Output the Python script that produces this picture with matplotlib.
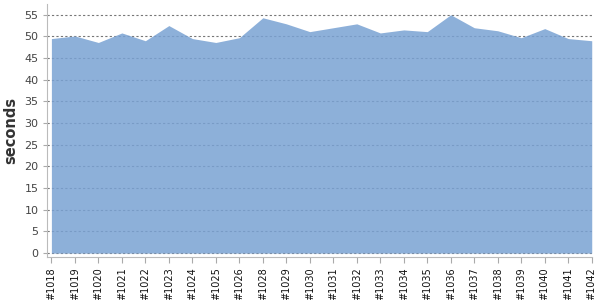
import numpy as np
import matplotlib.pyplot as plt

builds = ['#1018', '#1019', '#1020', '#1021', '#1022', '#1023', '#1024', '#1025', '#1026',
          '#1028', '#1029', '#1030', '#1031', '#1032', '#1033', '#1034', '#1035', '#1036',
          '#1037', '#1038', '#1039', '#1040', '#1041', '#1042']
seconds = [49.5, 50.1, 48.6, 50.8, 49.0, 52.5, 49.5, 48.6, 49.7,
           54.3, 52.9, 51.1, 52.0, 52.9, 50.8, 51.5, 51.1, 55.0,
           52.0, 51.3, 49.7, 51.8, 49.5, 49.0]
yticks = [0, 5, 10, 15, 20, 25, 30, 35, 40, 45, 50, 55]

fig = plt.figure(figsize=(6, 3), dpi=100)
ax = fig.add_axes([0.079, 0.143, 0.908, 0.844])

x = np.arange(len(builds))
# fill a bit see-through so the grid shows faintly behind it
ax.fill_between(x, 0, seconds, color='#79a2d3', alpha=0.85, lw=0, zorder=2)

ax.set_xlim(-0.17, len(builds) - 1 + 0.02)
ax.set_ylim(-0.92, 57.5)
ax.set_yticks(yticks)
ax.set_xticks(x)
ax.set_xticklabels(builds, rotation=90, fontsize=7, color='#111111')
ax.tick_params(axis='y', labelsize=8, labelcolor='#444444', color='#aaaaaa', length=3)
ax.tick_params(axis='x', color='#aaaaaa', length=4)

ax.grid(axis='y', color='#555555', alpha=0.8, linestyle=(0, (2, 2)), linewidth=0.8, zorder=1)
ax.set_axisbelow(True)

for s in ['top', 'right']:
    ax.spines[s].set_visible(False)
for s in ['left', 'bottom']:
    ax.spines[s].set_color('#bbbbbb')

ax.set_ylabel('seconds', fontsize=10.5, fontweight='bold', color='#333333', labelpad=4)

plt.savefig('out.png', dpi=100)
